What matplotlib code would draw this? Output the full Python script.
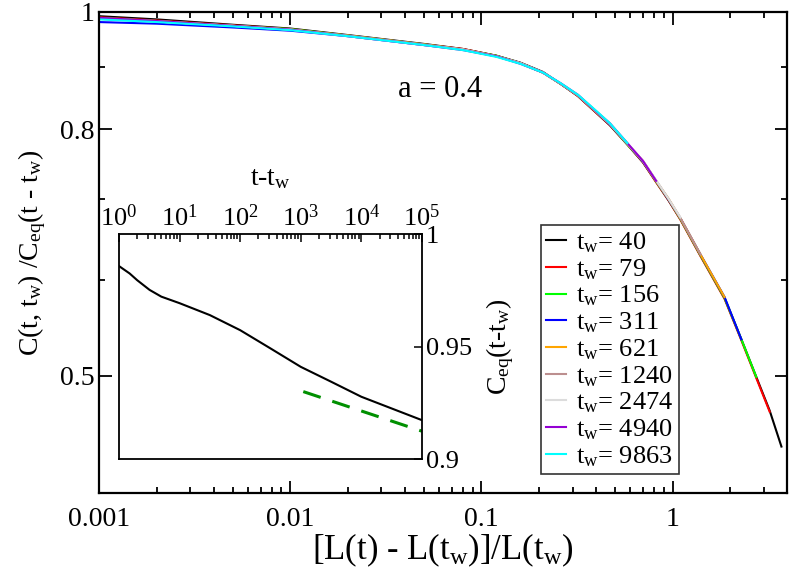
import numpy as np
import matplotlib
matplotlib.use('Agg')
from matplotlib import pyplot as plt
from matplotlib.ticker import FixedLocator, FixedFormatter, LogLocator, NullFormatter, LogFormatterMathtext

plt.rcParams['font.family'] = ['Liberation Serif', 'DejaVu Serif']
plt.rcParams['mathtext.fontset'] = 'custom'
plt.rcParams['mathtext.rm'] = 'Liberation Serif'
plt.rcParams['mathtext.it'] = 'Liberation Serif:italic'

# main panel: scaled correlation vs [L(t)-L(tw)]/L(tw)
x_grid = [0.001, 0.002, 0.005, 0.01, 0.02, 0.05, 0.08, 0.12, 0.16, 0.21, 0.26, 0.32, 0.4,
          0.47, 0.58, 0.7, 0.82, 0.95, 1.1, 1.4, 1.87, 2.29, 2.74, 3.22, 3.71]

tw_values = [40, 79, 156, 311, 621, 1240, 2474, 4940, 9863]
colors = ['black', 'red', '#00ff00', 'blue', '#ffa500', '#bc8f8f', '#dcdcdc', '#9400d3', '#00ffff']

c_40 = [0.992, 0.986, 0.976, 0.969, 0.957, 0.941, 0.932, 0.920, 0.908, 0.892, 0.872, 0.852, 0.825,
        0.806, 0.777, 0.751, 0.724, 0.699, 0.674, 0.629, 0.580, 0.536, 0.499, 0.468, 0.437]
c_79 = [0.990, 0.984, 0.975, 0.968, 0.956, 0.940, 0.932, 0.920, 0.907, 0.891, 0.872, 0.852, 0.825,
        0.806, 0.777, 0.751, 0.723, 0.699, 0.673, 0.628, 0.579, 0.535, 0.498, 0.467]
c_156 = [0.989, 0.983, 0.974, 0.968, 0.956, 0.940, 0.931, 0.920, 0.907, 0.891, 0.872, 0.853, 0.826,
         0.807, 0.777, 0.752, 0.724, 0.700, 0.674, 0.629, 0.580, 0.536, 0.499]
c_311 = [0.981, 0.978, 0.971, 0.965, 0.955, 0.939, 0.931, 0.919, 0.907, 0.891, 0.872, 0.853, 0.826,
         0.807, 0.778, 0.752, 0.725, 0.700, 0.675, 0.630, 0.581, 0.536]
c_621 = [0.987, 0.982, 0.974, 0.967, 0.956, 0.940, 0.931, 0.919, 0.907, 0.891, 0.872, 0.853, 0.826,
         0.808, 0.778, 0.753, 0.725, 0.701, 0.675, 0.630, 0.581]
c_1240 = [0.988, 0.983, 0.974, 0.967, 0.956, 0.940, 0.931, 0.919, 0.907, 0.891, 0.872, 0.853, 0.827,
          0.808, 0.778, 0.753, 0.725, 0.701, 0.675, 0.630]
c_2474 = [0.987, 0.982, 0.974, 0.967, 0.955, 0.939, 0.931, 0.919, 0.907, 0.891, 0.873, 0.854, 0.827,
          0.808, 0.779, 0.753, 0.726, 0.701, 0.676]
c_4940 = [0.989, 0.983, 0.974, 0.967, 0.955, 0.939, 0.930, 0.919, 0.906, 0.891, 0.873, 0.854, 0.827,
          0.809, 0.779, 0.753, 0.725]
c_9863 = [0.986, 0.981, 0.973, 0.966, 0.955, 0.939, 0.930, 0.918, 0.906, 0.891, 0.873, 0.854, 0.828,
          0.809, 0.779]
curves = [c_40, c_79, c_156, c_311, c_621, c_1240, c_2474, c_4940, c_9863]

# inset: equilibrium correlation
t_inset = [1, 1.5, 2, 3.2, 5, 10, 31.6, 100, 316, 1000, 3162, 10000, 31623, 100000]
ceq = [0.9858, 0.9825, 0.9795, 0.9752, 0.9722, 0.9693, 0.964, 0.9573, 0.9492, 0.941,
       0.9344, 0.9277, 0.9225, 0.9173]
t_fit = [1100, 100000]
ceq_fit = [0.930, 0.9124]

fig = plt.figure(figsize=(7.89, 5.71), dpi=100)
ax = fig.add_axes([0.1255, 0.1366, 0.8715, 0.8424])

for tw, col, c in zip(tw_values, colors, curves):
    ax.plot(x_grid[:len(c)], c, color=col, lw=1.5, label='t$_\\mathrm{w}$= %d' % tw)

ax.set_xscale('log')
ax.set_yscale('log')
ax.set_xlim(0.001, 3.95)
ax.set_ylim(0.4, 1.0)
ax.yaxis.set_major_locator(FixedLocator([0.5, 0.8, 1.0]))
ax.yaxis.set_major_formatter(FixedFormatter(['0.5', '0.8', '1']))
ax.yaxis.set_minor_locator(FixedLocator([0.4, 0.6, 0.7, 0.9]))
ax.yaxis.set_minor_formatter(NullFormatter())
ax.xaxis.set_major_locator(FixedLocator([0.001, 0.01, 0.1, 1]))
ax.xaxis.set_major_formatter(FixedFormatter(['0.001', '0.01', '0.1', '1']))
ax.xaxis.set_minor_locator(LogLocator(base=10, subs=np.arange(2, 10), numticks=20))
ax.xaxis.set_minor_formatter(NullFormatter())
ax.tick_params(which='both', direction='in', top=True, right=True, width=1.3, labelsize=20)
ax.tick_params(which='major', length=9)
ax.tick_params(which='minor', length=4.5)
ax.tick_params(axis='x', pad=10)
for s in ax.spines.values():
    s.set_linewidth(1.6)

ax.set_xlabel('[L(t) - L(t$_\\mathrm{w}$)]/L(t$_\\mathrm{w}$)', fontsize=25, labelpad=0)
ax.set_ylabel('C(t, t$_\\mathrm{w}$) /C$_\\mathrm{eq}$(t - t$_\\mathrm{w}$)', fontsize=20, labelpad=8)
ax.text(0.496, 0.838, 'a = 0.4', transform=ax.transAxes, fontsize=22, ha='center', va='center')

leg = ax.legend(loc='lower left', bbox_to_anchor=(0.6424, 0.0395), fontsize=19,
                frameon=True, fancybox=False, edgecolor='black', handlelength=0.75,
                handletextpad=0.4, labelspacing=0.08, borderpad=0.2, borderaxespad=0)
leg.get_frame().set_linewidth(1.2)

# inset
axi = fig.add_axes([0.1508, 0.196, 0.384, 0.394])
axi.plot(t_inset, ceq, color='black', lw=1.5)
axi.plot(t_fit, ceq_fit, color='#009000', lw=2.2, dashes=(6, 4))
axi.set_xscale('log')
axi.set_xlim(1, 1e5)
axi.set_ylim(0.9, 1.0)
axi.xaxis.tick_top()
axi.xaxis.set_label_position('top')
axi.yaxis.tick_right()
axi.yaxis.set_label_position('right')
axi.xaxis.set_major_locator(LogLocator(base=10, numticks=10))
axi.xaxis.set_major_formatter(LogFormatterMathtext())
axi.xaxis.set_minor_locator(LogLocator(base=10, subs=np.arange(2, 10), numticks=20))
axi.xaxis.set_minor_formatter(NullFormatter())
axi.yaxis.set_major_locator(FixedLocator([0.9, 0.95, 1.0]))
axi.yaxis.set_major_formatter(FixedFormatter(['0.9', '0.95', '1']))
axi.tick_params(which='both', direction='in', width=1.1, labelsize=19)
axi.tick_params(which='major', length=6)
axi.tick_params(which='minor', length=3.5)
axi.tick_params(axis='x', pad=2)
axi.tick_params(axis='y', pad=3)
for s in axi.spines.values():
    s.set_linewidth(1.3)
axi.set_xlabel('t-t$_\\mathrm{w}$', fontsize=20, labelpad=14)
axi.set_ylabel('C$_\\mathrm{eq}$(t-t$_\\mathrm{w}$)', fontsize=20, labelpad=9)

plt.savefig('out.png', dpi=100)
